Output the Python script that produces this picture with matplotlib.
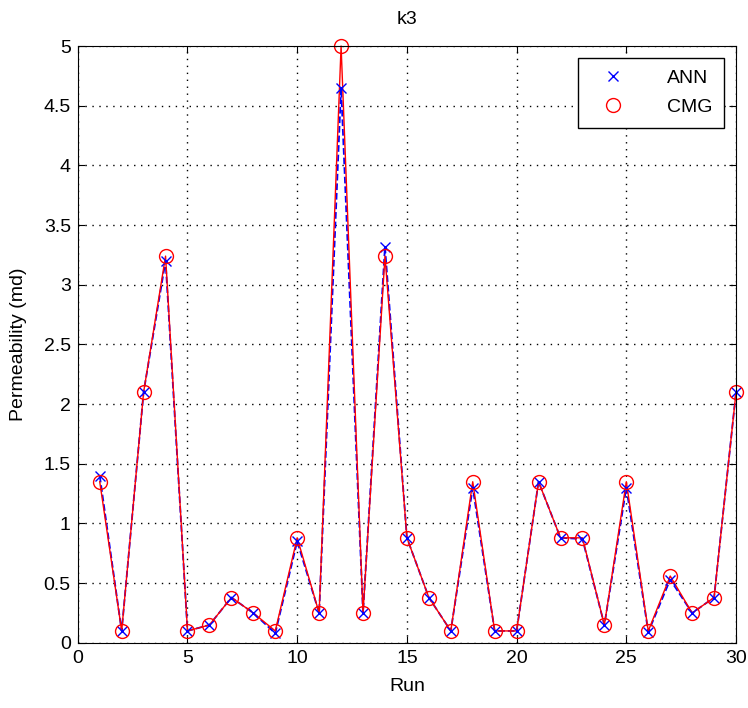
import matplotlib
matplotlib.use("Agg")
import matplotlib.pyplot as plt

plt.rcParams['font.family'] = ['Liberation Sans', 'DejaVu Sans']

run = list(range(1, 31))
ann = [1.40, 0.10, 2.10, 3.20, 0.10, 0.15, 0.38, 0.25, 0.08, 0.85,
       0.25, 4.65, 0.25, 3.32, 0.88, 0.38, 0.10, 1.30, 0.10, 0.10,
       1.35, 0.88, 0.87, 0.15, 1.30, 0.09, 0.53, 0.25, 0.38, 2.10]
cmg = [1.35, 0.10, 2.10, 3.24, 0.10, 0.15, 0.38, 0.25, 0.10, 0.88,
       0.25, 5.00, 0.25, 3.24, 0.88, 0.38, 0.10, 1.35, 0.10, 0.10,
       1.35, 0.88, 0.88, 0.15, 1.35, 0.10, 0.56, 0.25, 0.38, 2.10]

fig = plt.figure(figsize=(7.48, 7.08), dpi=100)
ax = fig.add_axes([0.104, 0.092, 0.880, 0.843])

# lines without legend entries, markers with legend entries (MATLAB style)
ax.plot(run, ann, color='blue', linestyle='--', linewidth=1.3, clip_on=False)
ax.plot(run, cmg, color='red', linestyle='-', linewidth=1.0, clip_on=False)
ax.plot(run, ann, 'x', color='blue', markersize=7, label='ANN', clip_on=False)
ax.plot(run, cmg, 'o', color='red', markerfacecolor='none', markersize=10,
        markeredgewidth=1.0, label='CMG', clip_on=False)

ax.set_xlim(0, 30)
ax.set_ylim(0, 5)
ax.set_xticks(range(0, 31, 5))
ax.set_yticks([0, 0.5, 1, 1.5, 2, 2.5, 3, 3.5, 4, 4.5, 5])
ax.set_yticklabels(['0', '0.5', '1', '1.5', '2', '2.5', '3', '3.5', '4', '4.5', '5'])
ax.grid(True, color='black', linestyle=(0, (1, 4)), linewidth=1.0)
ax.tick_params(direction='in', top=True, right=True, labelsize=14, length=5, pad=5)
ax.set_xlabel('Run', fontsize=14, labelpad=8)
ax.set_ylabel('Permeability (md)', fontsize=14, labelpad=12)
ax.set_title('k3', fontsize=14, pad=16)

leg = ax.legend(loc='upper right', fontsize=14, fancybox=False, framealpha=1,
                edgecolor='black', borderaxespad=0.6, handletextpad=1.6,
                handlelength=2.4, borderpad=0.6, labelspacing=0.6)
leg.get_frame().set_linewidth(1.0)

fig.savefig('out.png', dpi=100)
